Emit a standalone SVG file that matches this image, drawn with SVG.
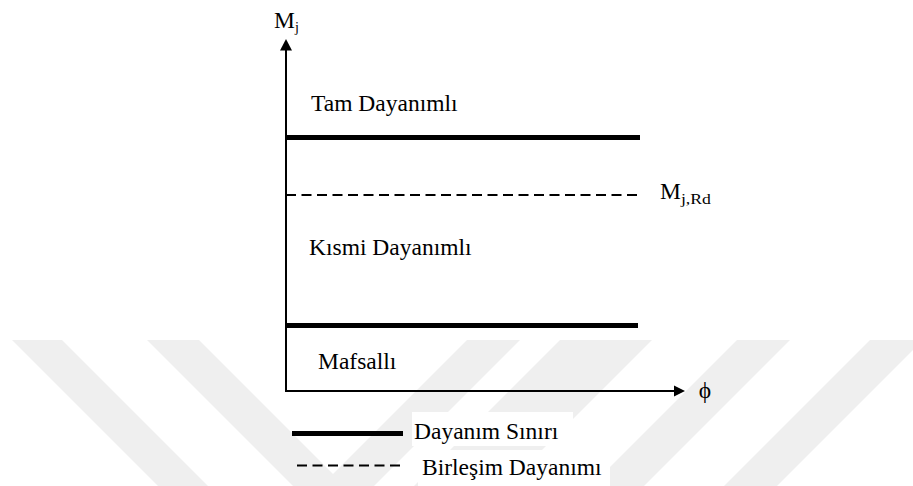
<svg xmlns="http://www.w3.org/2000/svg" width="913" height="486" viewBox="0 0 913 486">
  <defs>
    <style>
      .wm { fill: #efefef; stroke: none; }
      .lbl { font-family: "Liberation Serif", "Times New Roman", serif; font-size: 23.5px; fill: #000; }
      .axis { stroke: #000; stroke-width: 2; fill: none; }
      .thick { stroke: #000; stroke-width: 5; fill: none; }
      .dash { stroke: #000; stroke-width: 2; stroke-dasharray: 10 5.5; fill: none; }
      .bg { fill: #fff; stroke: none; }
    </style>
  </defs>
  <rect width="913" height="486" fill="#fff"/>
  <g id="watermark">
    <polygon class="wm" points="12,340 62,340 208,486 158,486"/>
    <polygon class="wm" points="147,340 199,340 345,486 293,486"/>
    <polygon class="wm" points="467,340 520,340 374,486 321,486"/>
    <polygon class="wm" points="560,340 652,340 506,486 414,486"/>
    <polygon class="wm" points="737,340 790,340 644,486 591,486"/>
    <polygon class="wm" points="870,340 923,340 777,486 724,486"/>
  </g>
  <g id="connectors">
    <line id="y-axis" class="axis" x1="286" y1="49" x2="286" y2="392"/>
    <polygon points="286,39 280,50.5 292,50.5" fill="#000"/>
    <line id="x-axis" class="axis" x1="285" y1="391" x2="675" y2="391"/>
    <polygon points="685,391 674,385.5 674,396.5" fill="#000"/>
    <line id="full-strength-limit" class="thick" x1="286" y1="137.5" x2="640" y2="137.5"/>
    <line id="joint-resistance" class="dash" x1="286" y1="195" x2="637" y2="195"/>
    <line id="pinned-limit" class="thick" x1="286" y1="325.5" x2="638" y2="325.5"/>
  </g>
  <g id="axis-labels">
    <text id="label-mj" class="lbl" x="274" y="28">M<tspan font-size="14" dy="4">j</tspan></text>
    <text id="label-phi" class="lbl" x="705" y="398" font-size="21" text-anchor="middle">ϕ</text>
    <text id="label-mjrd" class="lbl" x="660" y="198.5" font-size="20">M<tspan font-size="15" dy="5.5" textLength="30" lengthAdjust="spacingAndGlyphs">j,Rd</tspan></text>
  </g>
  <g id="region-full">
    <text class="lbl" x="311" y="111">Tam Dayanımlı</text>
  </g>
  <g id="region-partial">
    <text class="lbl" x="309" y="255">Kısmi Dayanımlı</text>
  </g>
  <g id="region-pinned">
    <text class="lbl" x="318" y="369">Mafsallı</text>
  </g>
  <g id="legend">
    <rect class="bg" x="412" y="412" width="161" height="34"/>
    <rect class="bg" x="418" y="450" width="192" height="36"/>
    <line class="thick" x1="292" y1="433.5" x2="403" y2="433.5"/>
    <text class="lbl" x="414" y="438.5">Dayanım Sınırı</text>
    <line class="dash" x1="297" y1="465.5" x2="400" y2="465.5"/>
    <text class="lbl" x="422" y="475">Birleşim Dayanımı</text>
  </g>
</svg>
